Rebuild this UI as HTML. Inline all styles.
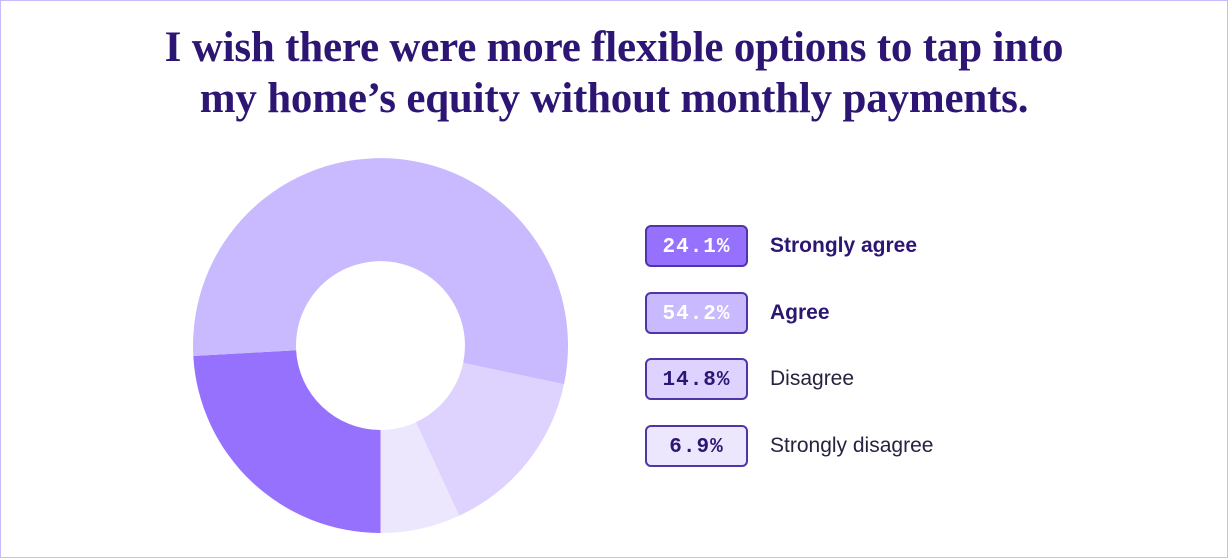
<!DOCTYPE html>
<html><head><meta charset="utf-8"><style>
html,body{margin:0;padding:0;background:#fff;}
.wrap{position:relative;width:1226px;height:556px;border:1px solid #c9b9fe;overflow:hidden;}
h1{position:absolute;left:0;top:21px;width:1226px;margin:0;text-align:center;font-family:"Liberation Serif",serif;font-weight:bold;font-size:43px;line-height:51px;color:#2d1673;letter-spacing:-0.2px;}
.box{position:absolute;left:644px;width:99px;height:38px;border:2px solid #4f35a8;border-radius:6px;font-family:"Liberation Mono",monospace;font-weight:bold;font-size:21px;line-height:41px;text-align:center;letter-spacing:1px;}
.lab{position:absolute;left:769px;font-family:"Liberation Sans",sans-serif;font-size:21px;line-height:42px;}
</style></head><body><div class="wrap">
<h1>I wish there were more flexible options to tap into<br>my home’s equity without monthly payments.</h1>
<svg width="1226" height="556" style="position:absolute;left:0;top:0">
<g transform="translate(-1,-1)">
<path d="M380.5,533 A187.5,187.5 0 0 1 193.3,356 L296.1,350.2 A84.5,84.5 0 0 0 380.5,430 Z" fill="#9571fe"/>
<path d="M193.3,356 A187.5,187.5 0 1 1 564,384.2 L463.2,362.9 A84.5,84.5 0 1 0 296.1,350.2 Z" fill="#c9b9fe"/>
<path d="M564,384.2 A187.5,187.5 0 0 1 459.2,515.7 L415.9,422.2 A84.5,84.5 0 0 0 463.2,362.9 Z" fill="#ddd3fe"/>
<path d="M459.2,515.7 A187.5,187.5 0 0 1 380.5,533 L380.5,430 A84.5,84.5 0 0 0 415.9,422.2 Z" fill="#ede7fe"/>
</g></svg>
<div class="box" style="top:224px;background:#9571fe;color:#fff">24.1%</div>
<div class="box" style="top:291px;background:#c9b9fe;color:#fff">54.2%</div>
<div class="box" style="top:357px;background:#ddd3fe;color:#2d1673">14.8%</div>
<div class="box" style="top:424px;background:#ede7fe;color:#2d1673">6.9%</div>
<div class="lab" style="top:224px;font-weight:bold;color:#2d1673">Strongly agree</div>
<div class="lab" style="top:291px;font-weight:bold;color:#2d1673">Agree</div>
<div class="lab" style="top:357px;color:#26233f">Disagree</div>
<div class="lab" style="top:424px;color:#26233f">Strongly disagree</div>
</div></body></html>
